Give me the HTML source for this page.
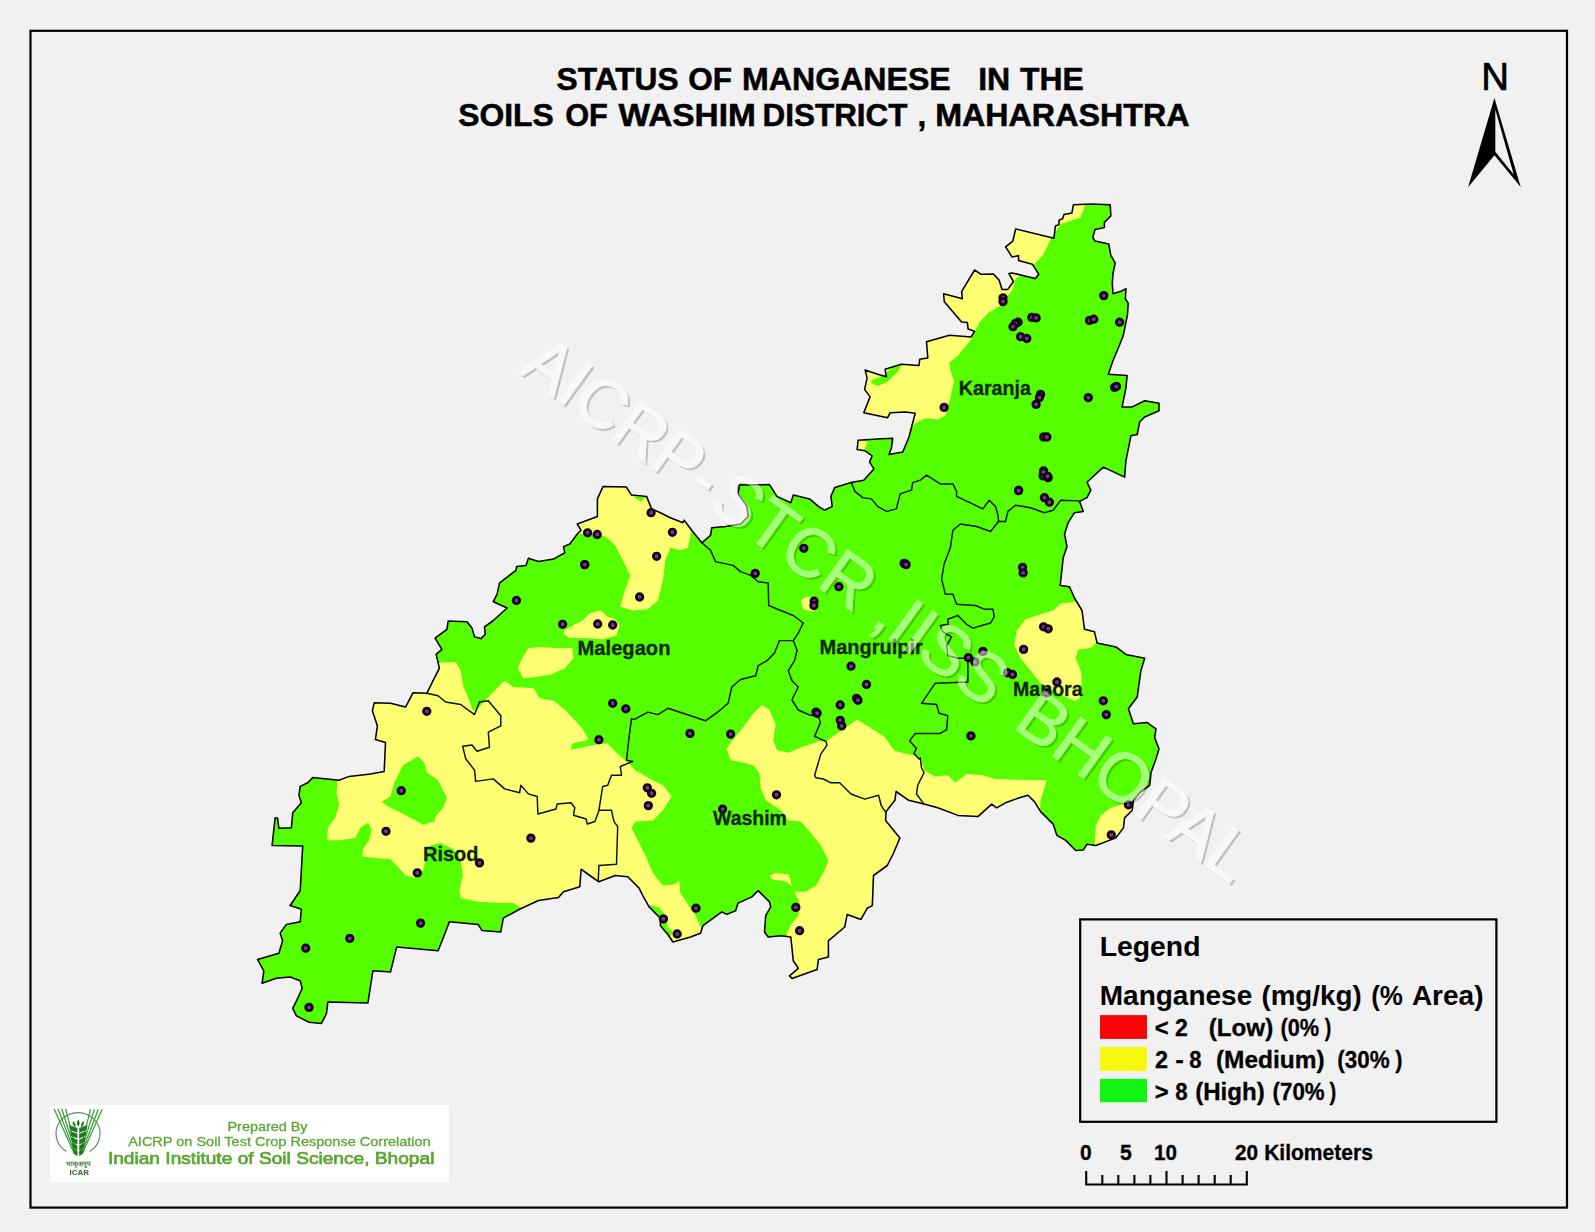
<!DOCTYPE html>
<html lang="en"><head><meta charset="utf-8"><title>Status of Manganese in the Soils of Washim District, Maharashtra</title>
<style>
html,body{margin:0;padding:0;background:#f1f1f1;}
body{width:1595px;height:1232px;overflow:hidden;font-family:"Liberation Sans", Arial, Helvetica, sans-serif;}
svg{display:block;}
text{font-family:"Liberation Sans", Arial, Helvetica, sans-serif;}
.b{font-weight:bold;}
.lbl{font-weight:bold;fill:#0a260a;stroke:#0a260a;stroke-width:0.3px;}
.leg{font-weight:bold;fill:#000;stroke:#000;stroke-width:0.3px;}
.sc{font-weight:bold;fill:#000;stroke:#000;stroke-width:0.3px;}
.ttl{font-weight:bold;fill:#000;stroke:#000;stroke-width:0.5px;}
.pg{fill:#5aa832;}
</style></head><body>
<svg width="1595" height="1232" viewBox="0 0 1595 1232">
<rect x="0" y="0" width="1595" height="1232" fill="#f1f1f1"/>
<rect x="30.5" y="30.8" width="1536.5" height="1176.8" fill="none" stroke="#000" stroke-width="2.2"/>

<defs><clipPath id="dc"><polygon points="863.8,480.2 873.9,468.9 869.6,462.1 872.1,455.8 865.1,450.8 857.1,449.6 858.1,440.3 877.6,439.0 892.7,438.3 891.4,448.3 888.9,454.6 902.7,452.1 909.0,437.0 915.2,413.2 905.7,411.9 890.2,412.7 887.6,417.7 863.8,412.7 870.1,396.9 864.6,389.4 867.1,378.1 865.1,370.1 877.6,374.3 886.4,376.8 885.1,369.3 901.4,364.3 919.0,365.5 919.7,359.3 927.8,358.0 926.5,341.7 949.4,335.2 971.0,337.0 974.6,331.3 968.1,329.1 967.4,322.6 961.6,321.9 944.3,301.7 943.6,293.8 962.4,298.8 961.6,291.6 974.6,270.0 981.1,274.3 993.4,274.0 999.1,280.1 1002.0,289.4 1007.8,289.4 1013.5,281.5 1008.9,273.6 1012.1,272.9 1035.2,278.6 1038.8,274.3 1032.3,264.2 1018.6,260.6 1018.6,255.6 1012.1,257.0 1005.6,246.9 1012.8,241.1 1015.7,228.9 1053.9,238.3 1055.4,226.0 1059.0,224.6 1059.0,220.2 1062.6,218.8 1064.0,214.5 1071.9,213.0 1073.4,204.8 1091.4,203.9 1110.2,204.8 1110.9,215.9 1104.4,222.4 1104.4,227.4 1095.0,229.6 1092.8,237.5 1095.0,241.1 1108.7,244.0 1110.9,255.6 1115.2,262.8 1113.0,273.6 1112.3,283.0 1113.0,293.8 1121.7,290.9 1126.0,288.7 1125.3,298.8 1128.2,303.1 1127.5,314.7 1123.1,336.3 1113.0,360.8 1108.3,374.3 1127.1,375.6 1125.9,388.1 1122.1,406.9 1132.2,406.9 1144.7,400.7 1159.0,403.2 1159.0,410.7 1144.7,417.0 1139.7,422.0 1137.2,434.5 1130.9,435.8 1125.9,460.8 1124.6,477.1 1103.3,467.1 1087.0,482.2 1090.8,490.1 1087.0,497.6 1079.5,501.4 1083.3,511.4 1074.5,512.7 1068.2,522.7 1064.5,534.0 1067.0,546.6 1063.2,557.8 1060.2,585.4 1069.5,586.7 1074.5,598.0 1082.0,610.5 1084.5,629.3 1094.5,631.8 1097.1,643.1 1115.9,646.9 1125.9,654.4 1144.7,658.2 1140.9,670.7 1137.2,697.0 1128.4,708.8 1133.4,723.8 1147.2,722.6 1156.0,728.8 1154.7,737.6 1159.0,748.9 1156.0,758.9 1151.0,772.7 1149.7,785.3 1140.9,791.5 1133.4,800.3 1132.2,810.3 1124.6,817.9 1123.4,827.9 1115.9,837.9 1095.8,845.5 1087.0,844.2 1083.3,850.0 1075.7,850.5 1065.7,840.4 1056.9,835.4 1053.2,824.1 1040.6,811.6 1034.4,801.6 1028.1,795.3 1019.3,797.8 1005.5,802.8 996.7,807.8 991.7,804.1 977.9,816.6 957.9,815.4 937.8,807.8 924.0,804.1 908.7,800.3 896.1,791.5 894.9,800.3 886.1,811.6 885.6,820.4 899.9,837.9 893.6,853.0 887.3,865.5 873.5,875.5 872.3,905.6 867.3,908.2 861.0,919.4 847.2,914.4 844.7,927.0 828.4,940.8 828.4,957.1 818.4,959.6 817.1,969.6 792.0,978.4 789.5,975.9 798.3,968.3 793.3,960.8 790.8,937.0 780.8,935.7 768.2,937.0 764.5,932.0 765.7,915.7 770.7,906.9 769.5,901.9 758.2,890.6 751.9,896.9 738.1,903.1 735.6,910.7 726.8,914.4 721.8,911.9 703.0,925.7 700.5,933.2 690.5,937.0 672.9,942.0 667.9,934.5 660.4,925.7 660.4,918.2 649.1,906.9 642.8,895.6 639.1,888.1 627.8,876.8 615.2,875.5 598.9,881.8 589.8,875.5 581.1,869.2 579.8,886.7 563.5,891.8 558.5,897.5 538.4,900.5 519.6,909.3 503.3,918.1 500.8,931.9 482.0,930.6 478.2,924.4 449.4,921.8 443.1,938.2 438.1,950.7 396.7,946.9 390.5,972.0 372.9,970.8 367.9,1002.9 327.8,1002.1 326.5,1013.4 321.5,1023.4 309.0,1022.2 296.4,1015.9 292.7,1008.4 297.7,998.3 302.2,988.3 300.2,980.8 290.2,977.0 276.4,978.3 262.1,983.3 263.8,970.8 257.6,959.5 278.9,953.2 282.6,940.7 280.1,933.1 286.4,924.4 300.2,921.8 301.4,909.3 290.2,905.5 300.2,890.5 302.7,845.9 272.1,845.4 275.1,817.8 277.6,818.3 278.9,828.3 291.4,827.8 292.7,812.8 301.4,802.7 298.9,795.2 300.2,786.4 307.7,782.7 312.7,777.6 339.1,780.2 349.1,776.4 370.4,773.9 384.2,771.4 385.5,742.5 375.4,739.5 377.4,725.9 372.4,710.8 374.2,702.8 390.5,703.3 405.5,707.1 413.0,692.8 426.8,693.3 433.1,680.7 439.4,668.2 436.1,654.4 441.9,649.4 435.1,638.1 446.9,629.3 448.2,621.0 467.0,621.8 472.0,628.1 474.5,636.8 480.8,638.6 485.3,634.3 484.5,626.8 493.3,620.5 507.1,608.0 493.3,601.7 497.1,594.2 499.6,582.9 515.9,570.4 516.6,566.6 525.9,565.4 528.4,558.3 538.4,561.6 553.5,559.1 564.8,552.8 563.5,546.6 569.8,544.0 577.3,534.0 581.1,530.3 577.3,524.0 597.4,516.5 597.4,498.9 603.1,486.4 626.5,487.1 631.5,495.1 646.6,496.4 651.6,508.9 660.4,512.7 669.2,517.2 682.9,522.7 684.2,520.2 691.7,530.3 701.8,542.8 710.5,535.3 711.8,527.7 725.6,526.5 740.6,524.0 748.2,516.5 746.9,506.4 738.1,493.9 739.4,485.1 769.5,484.6 777.0,496.4 790.8,502.7 793.3,495.1 809.6,498.9 818.4,506.4 824.6,510.2 832.2,506.4 830.9,496.4 834.7,487.6 851.0,482.6"/></clipPath></defs>
<g clip-path="url(#dc)">
<polygon points="863.8,480.2 873.9,468.9 869.6,462.1 872.1,455.8 865.1,450.8 857.1,449.6 858.1,440.3 877.6,439.0 892.7,438.3 891.4,448.3 888.9,454.6 902.7,452.1 909.0,437.0 915.2,413.2 905.7,411.9 890.2,412.7 887.6,417.7 863.8,412.7 870.1,396.9 864.6,389.4 867.1,378.1 865.1,370.1 877.6,374.3 886.4,376.8 885.1,369.3 901.4,364.3 919.0,365.5 919.7,359.3 927.8,358.0 926.5,341.7 949.4,335.2 971.0,337.0 974.6,331.3 968.1,329.1 967.4,322.6 961.6,321.9 944.3,301.7 943.6,293.8 962.4,298.8 961.6,291.6 974.6,270.0 981.1,274.3 993.4,274.0 999.1,280.1 1002.0,289.4 1007.8,289.4 1013.5,281.5 1008.9,273.6 1012.1,272.9 1035.2,278.6 1038.8,274.3 1032.3,264.2 1018.6,260.6 1018.6,255.6 1012.1,257.0 1005.6,246.9 1012.8,241.1 1015.7,228.9 1053.9,238.3 1055.4,226.0 1059.0,224.6 1059.0,220.2 1062.6,218.8 1064.0,214.5 1071.9,213.0 1073.4,204.8 1091.4,203.9 1110.2,204.8 1110.9,215.9 1104.4,222.4 1104.4,227.4 1095.0,229.6 1092.8,237.5 1095.0,241.1 1108.7,244.0 1110.9,255.6 1115.2,262.8 1113.0,273.6 1112.3,283.0 1113.0,293.8 1121.7,290.9 1126.0,288.7 1125.3,298.8 1128.2,303.1 1127.5,314.7 1123.1,336.3 1113.0,360.8 1108.3,374.3 1127.1,375.6 1125.9,388.1 1122.1,406.9 1132.2,406.9 1144.7,400.7 1159.0,403.2 1159.0,410.7 1144.7,417.0 1139.7,422.0 1137.2,434.5 1130.9,435.8 1125.9,460.8 1124.6,477.1 1103.3,467.1 1087.0,482.2 1090.8,490.1 1087.0,497.6 1079.5,501.4 1083.3,511.4 1074.5,512.7 1068.2,522.7 1064.5,534.0 1067.0,546.6 1063.2,557.8 1060.2,585.4 1069.5,586.7 1074.5,598.0 1082.0,610.5 1084.5,629.3 1094.5,631.8 1097.1,643.1 1115.9,646.9 1125.9,654.4 1144.7,658.2 1140.9,670.7 1137.2,697.0 1128.4,708.8 1133.4,723.8 1147.2,722.6 1156.0,728.8 1154.7,737.6 1159.0,748.9 1156.0,758.9 1151.0,772.7 1149.7,785.3 1140.9,791.5 1133.4,800.3 1132.2,810.3 1124.6,817.9 1123.4,827.9 1115.9,837.9 1095.8,845.5 1087.0,844.2 1083.3,850.0 1075.7,850.5 1065.7,840.4 1056.9,835.4 1053.2,824.1 1040.6,811.6 1034.4,801.6 1028.1,795.3 1019.3,797.8 1005.5,802.8 996.7,807.8 991.7,804.1 977.9,816.6 957.9,815.4 937.8,807.8 924.0,804.1 908.7,800.3 896.1,791.5 894.9,800.3 886.1,811.6 885.6,820.4 899.9,837.9 893.6,853.0 887.3,865.5 873.5,875.5 872.3,905.6 867.3,908.2 861.0,919.4 847.2,914.4 844.7,927.0 828.4,940.8 828.4,957.1 818.4,959.6 817.1,969.6 792.0,978.4 789.5,975.9 798.3,968.3 793.3,960.8 790.8,937.0 780.8,935.7 768.2,937.0 764.5,932.0 765.7,915.7 770.7,906.9 769.5,901.9 758.2,890.6 751.9,896.9 738.1,903.1 735.6,910.7 726.8,914.4 721.8,911.9 703.0,925.7 700.5,933.2 690.5,937.0 672.9,942.0 667.9,934.5 660.4,925.7 660.4,918.2 649.1,906.9 642.8,895.6 639.1,888.1 627.8,876.8 615.2,875.5 598.9,881.8 589.8,875.5 581.1,869.2 579.8,886.7 563.5,891.8 558.5,897.5 538.4,900.5 519.6,909.3 503.3,918.1 500.8,931.9 482.0,930.6 478.2,924.4 449.4,921.8 443.1,938.2 438.1,950.7 396.7,946.9 390.5,972.0 372.9,970.8 367.9,1002.9 327.8,1002.1 326.5,1013.4 321.5,1023.4 309.0,1022.2 296.4,1015.9 292.7,1008.4 297.7,998.3 302.2,988.3 300.2,980.8 290.2,977.0 276.4,978.3 262.1,983.3 263.8,970.8 257.6,959.5 278.9,953.2 282.6,940.7 280.1,933.1 286.4,924.4 300.2,921.8 301.4,909.3 290.2,905.5 300.2,890.5 302.7,845.9 272.1,845.4 275.1,817.8 277.6,818.3 278.9,828.3 291.4,827.8 292.7,812.8 301.4,802.7 298.9,795.2 300.2,786.4 307.7,782.7 312.7,777.6 339.1,780.2 349.1,776.4 370.4,773.9 384.2,771.4 385.5,742.5 375.4,739.5 377.4,725.9 372.4,710.8 374.2,702.8 390.5,703.3 405.5,707.1 413.0,692.8 426.8,693.3 433.1,680.7 439.4,668.2 436.1,654.4 441.9,649.4 435.1,638.1 446.9,629.3 448.2,621.0 467.0,621.8 472.0,628.1 474.5,636.8 480.8,638.6 485.3,634.3 484.5,626.8 493.3,620.5 507.1,608.0 493.3,601.7 497.1,594.2 499.6,582.9 515.9,570.4 516.6,566.6 525.9,565.4 528.4,558.3 538.4,561.6 553.5,559.1 564.8,552.8 563.5,546.6 569.8,544.0 577.3,534.0 581.1,530.3 577.3,524.0 597.4,516.5 597.4,498.9 603.1,486.4 626.5,487.1 631.5,495.1 646.6,496.4 651.6,508.9 660.4,512.7 669.2,517.2 682.9,522.7 684.2,520.2 691.7,530.3 701.8,542.8 710.5,535.3 711.8,527.7 725.6,526.5 740.6,524.0 748.2,516.5 746.9,506.4 738.1,493.9 739.4,485.1 769.5,484.6 777.0,496.4 790.8,502.7 793.3,495.1 809.6,498.9 818.4,506.4 824.6,510.2 832.2,506.4 830.9,496.4 834.7,487.6 851.0,482.6" fill="#55ff00"/>
<polygon points="1087.0,200.0 1080.8,217.6 1060.7,223.9 1050.7,238.9 1043.1,255.2 1030.6,267.7 1015.5,279.0 1013.0,289.1 1000.5,305.4 988.0,312.9 979.2,322.9 970.4,340.5 957.9,355.5 949.1,363.0 950.3,370.6 954.1,380.6 950.3,398.2 945.3,415.7 937.8,419.5 925.3,418.2 915.2,423.2 910.2,430.8 840.0,430.8 840.0,190.0 1087.0,190.0" fill="#ffff73"/>
<polygon points="855.0,438.3 867.6,442.0 863.8,450.8 855.0,452.1" fill="#ffff73"/>
<polygon points="1060.7,603.5 1070.7,602.5 1080.8,600.5 1115.9,610.5 1115.9,641.8 1096.3,642.6 1090.8,648.1 1078.2,649.4 1075.7,658.2 1080.8,670.7 1082.0,680.7 1079.5,698.3 1074.5,700.8 1065.7,697.0 1053.2,690.8 1040.6,683.2 1030.6,670.7 1020.6,658.2 1014.3,645.6 1016.8,630.6 1025.6,619.3 1040.6,614.3 1053.2,610.5" fill="#ffff73"/>
<polygon points="1124.6,803.3 1110.8,807.8 1100.8,815.4 1095.8,825.4 1094.5,850.5 1140.9,850.5 1140.9,800.3" fill="#ffff73"/>
<polygon points="575.1,534.0 575.1,475.1 695.5,475.1 695.5,532.8 691.7,530.3 688.0,547.8 680.4,550.3 670.4,547.8 665.4,560.3 662.9,580.4 657.9,600.5 647.8,609.2 632.8,610.5 620.3,606.7 624.0,592.9 630.3,575.4 622.8,560.3 615.2,545.3 605.2,536.5 590.2,534.0" fill="#ffff73"/>
<polygon points="563.8,630.6 572.6,625.5 582.6,620.5 590.2,613.0 600.2,610.5 607.7,616.8 615.2,619.3 619.7,625.5 616.5,635.6 602.7,639.3 585.1,638.1 570.1,638.1 563.8,634.3" fill="#ffff73"/>
<polygon points="528.4,648.1 540.9,646.9 556.0,648.1 572.3,648.1 573.5,658.2 564.8,668.2 551.0,674.5 535.9,677.0 523.4,678.2 517.9,668.2 522.1,658.2" fill="#ffff73"/>
<polygon points="800.8,600.5 805.8,596.7 815.9,598.0 818.4,605.5 813.4,611.8 803.3,609.2" fill="#ffff73"/>
<polygon points="430.6,663.2 455.7,661.9 460.7,670.7 463.2,685.7 468.2,698.3 473.2,710.8 478.2,708.3 487.0,698.3 495.8,689.5 504.6,680.7 513.4,687.0 533.4,688.2 539.7,698.3 553.5,700.8 566.0,710.8 582.3,728.4 588.6,739.7 572.3,743.4 571.0,749.7 594.9,744.7 607.4,743.4 617.4,753.4 626.2,761.0 635.3,770.2 650.3,779.0 662.9,785.3 671.7,796.6 662.9,810.3 652.9,820.4 635.3,821.6 631.5,827.9 637.8,840.4 645.3,855.5 652.9,873.0 662.9,885.6 675.4,884.3 679.2,880.6 680.4,893.1 685.5,900.6 695.5,915.7 700.5,927.0 703.0,950.8 540.9,918.1 519.6,906.8 513.4,903.0 500.8,903.0 478.2,901.8 460.7,898.0 459.4,890.5 462.7,875.5 460.7,860.4 453.2,849.1 440.6,842.9 430.6,845.4 425.6,860.4 423.1,870.4 415.5,878.0 405.5,875.5 398.0,866.7 390.5,859.2 375.4,857.9 362.4,856.6 362.9,849.1 369.2,840.3 371.7,829.1 367.9,822.8 360.4,827.8 355.4,837.8 340.3,840.3 327.3,840.3 327.8,827.8 335.3,817.8 339.1,805.2 336.6,792.7 337.8,775.1 365.4,755.1 365.4,679.8" fill="#ffff73"/>
<polygon points="761.9,705.0 769.5,710.0 775.7,725.1 773.2,740.1 777.0,750.2 788.3,752.7 800.8,747.6 818.4,741.4 825.9,741.4 840.9,730.8 857.2,719.6 871.0,728.3 883.6,735.9 894.9,750.9 916.2,755.9 921.2,758.2 923.9,770.2 935.2,776.5 947.8,775.2 955.3,782.8 966.6,774.0 982.9,775.2 995.4,779.0 1020.5,779.7 1046.8,780.3 1040.6,800.3 1039.1,825.4 916.2,875.5 891.1,1000.9 778.2,1000.9 787.0,933.2 790.8,924.5 798.3,915.7 799.6,903.1 794.5,891.8 805.8,891.8 815.9,885.6 823.4,873.0 828.4,860.5 820.9,845.5 810.8,832.9 800.8,821.6 788.3,820.4 780.8,810.3 765.7,800.3 760.7,787.8 759.4,772.7 753.2,765.2 738.1,761.4 730.6,760.2 726.8,748.9 730.6,742.6 743.1,727.6 753.2,713.8" fill="#ffff73"/>
<polygon points="769.5,875.5 775.7,873.0 788.3,874.3 790.8,880.6 792.0,886.8 787.0,881.8 772.0,879.3" fill="#ffff73"/>
<polygon points="871.3,380.6 880.1,376.8 893.9,366.8 901.4,365.5 897.7,371.8 887.6,381.8 877.6,386.1 871.3,383.1" fill="#55ff00"/>
<polygon points="632.8,496.4 646.6,497.1 640.3,501.4" fill="#55ff00"/>
<polygon points="381.7,801.5 390.5,796.5 394.2,782.7 403.0,765.1 418.1,756.3 424.3,762.6 426.8,772.6 438.1,780.2 446.9,797.7 443.1,807.7 435.6,816.5 434.4,821.5 423.1,824.8 413.0,819.0 400.5,812.8 388.0,806.5" fill="#55ff00"/>
<polygon points="650.3,905.1 659.1,907.6 665.4,915.7 667.9,927.0 672.9,932.0 669.2,938.2 657.9,925.7 657.9,918.2 647.8,906.9" fill="#55ff00"/>
</g>
<polyline points="851.3,482.6 855.0,491.4 862.6,497.6 871.3,498.9 877.6,506.4 886.4,511.4 896.4,508.9 900.2,493.9 911.5,490.1 912.7,482.6 920.3,480.1 926.5,475.1 940.3,483.9 952.9,483.9 956.6,491.4 956.6,496.4 982.9,508.9 989.2,500.2 995.5,506.4 998.0,515.2 998.5,521.5 1005.5,521.5 1008.0,511.4 1015.5,505.2 1030.6,507.7 1044.4,512.7 1053.2,510.2 1060.7,500.2 1079.5,500.9" fill="none" stroke="#061206" stroke-width="1.45" stroke-linejoin="round"/>
<polyline points="998.5,521.5 990.5,531.5 976.7,526.5 960.4,524.0 952.9,530.3 950.3,547.8 944.1,564.1 941.6,579.2 945.3,594.2 952.9,594.2 956.6,604.2 975.4,605.5 984.2,609.2 993.0,609.2 994.2,616.8 990.5,623.0 972.9,628.1 966.6,624.3 957.9,615.5 947.8,619.3 948.3,624.3 940.3,625.5 942.8,631.8 951.6,636.8 946.6,645.6 947.8,655.6 957.9,658.2 967.9,658.2 967.9,682.0 935.3,683.2 921.5,703.3 936.6,704.5 939.1,713.3 947.8,715.8 946.6,729.6 940.3,733.4 915.2,733.4 909.7,740.9 916.5,748.4 914.0,753.4 919.0,759.0 920.3,757.7 921.5,767.7 924.0,772.7 917.7,785.3 916.5,794.0 924.0,804.1" fill="none" stroke="#061206" stroke-width="1.45" stroke-linejoin="round"/>
<polyline points="701.8,542.8 710.5,550.3 715.5,561.6 733.1,565.4 740.6,571.6 750.7,575.4 758.2,581.7 768.2,582.9 768.7,605.5 780.8,610.5 793.3,615.5 803.3,623.0 798.3,633.1 793.3,640.6 779.5,640.6 774.5,653.1 767.0,660.7 758.2,665.7 755.7,675.7 740.6,679.5 731.8,687.0 728.1,703.3 719.3,710.8 705.5,720.8 690.5,715.8 667.9,708.3 657.9,714.6 647.8,712.1 634.0,719.6 631.5,718.8 629.0,737.6 626.5,760.2 632.8,761.4 620.3,766.5 621.5,775.2 611.5,775.2 607.7,785.3 602.7,786.5 598.9,810.3" fill="none" stroke="#061206" stroke-width="1.45" stroke-linejoin="round"/>
<polyline points="793.3,640.6 797.1,650.6 794.5,660.7 788.3,670.7 792.0,680.7 798.3,687.0 793.3,697.0 792.0,700.0 798.3,710.0 809.6,715.0 818.4,716.3 820.4,722.6 814.6,736.4 825.9,741.4 827.1,745.1 820.9,753.9 814.6,775.2 815.9,777.7 823.4,779.0 830.9,782.8 839.7,782.8 851.0,794.0 864.8,799.1 878.6,795.3 881.1,805.3 885.6,812.1" fill="none" stroke="#061206" stroke-width="1.45" stroke-linejoin="round"/>
<polyline points="598.9,810.3 611.5,810.3 614.0,821.6 617.7,826.6 616.5,864.3 598.9,865.5 598.2,881.8" fill="none" stroke="#061206" stroke-width="1.45" stroke-linejoin="round"/>
<polyline points="426.8,693.3 438.1,695.8 445.6,702.0 460.7,704.5 474.5,714.6 479.5,702.0 488.3,700.8 500.8,715.8 500.8,725.9 488.3,732.1 489.5,747.2 477.0,751.3 472.0,745.0 462.7,746.3 465.7,758.8 474.5,770.1 475.7,781.4 493.3,778.9 504.6,788.9 519.6,792.7 520.9,785.2 528.4,793.9 537.2,796.5 537.9,814.0 556.0,809.0 557.2,804.0 571.0,802.7 574.8,807.7 573.5,815.3 586.1,819.0 587.3,824.0 594.9,821.5 598.6,811.5 598.9,810.3" fill="none" stroke="#061206" stroke-width="1.45" stroke-linejoin="round"/>
<polygon points="863.8,480.2 873.9,468.9 869.6,462.1 872.1,455.8 865.1,450.8 857.1,449.6 858.1,440.3 877.6,439.0 892.7,438.3 891.4,448.3 888.9,454.6 902.7,452.1 909.0,437.0 915.2,413.2 905.7,411.9 890.2,412.7 887.6,417.7 863.8,412.7 870.1,396.9 864.6,389.4 867.1,378.1 865.1,370.1 877.6,374.3 886.4,376.8 885.1,369.3 901.4,364.3 919.0,365.5 919.7,359.3 927.8,358.0 926.5,341.7 949.4,335.2 971.0,337.0 974.6,331.3 968.1,329.1 967.4,322.6 961.6,321.9 944.3,301.7 943.6,293.8 962.4,298.8 961.6,291.6 974.6,270.0 981.1,274.3 993.4,274.0 999.1,280.1 1002.0,289.4 1007.8,289.4 1013.5,281.5 1008.9,273.6 1012.1,272.9 1035.2,278.6 1038.8,274.3 1032.3,264.2 1018.6,260.6 1018.6,255.6 1012.1,257.0 1005.6,246.9 1012.8,241.1 1015.7,228.9 1053.9,238.3 1055.4,226.0 1059.0,224.6 1059.0,220.2 1062.6,218.8 1064.0,214.5 1071.9,213.0 1073.4,204.8 1091.4,203.9 1110.2,204.8 1110.9,215.9 1104.4,222.4 1104.4,227.4 1095.0,229.6 1092.8,237.5 1095.0,241.1 1108.7,244.0 1110.9,255.6 1115.2,262.8 1113.0,273.6 1112.3,283.0 1113.0,293.8 1121.7,290.9 1126.0,288.7 1125.3,298.8 1128.2,303.1 1127.5,314.7 1123.1,336.3 1113.0,360.8 1108.3,374.3 1127.1,375.6 1125.9,388.1 1122.1,406.9 1132.2,406.9 1144.7,400.7 1159.0,403.2 1159.0,410.7 1144.7,417.0 1139.7,422.0 1137.2,434.5 1130.9,435.8 1125.9,460.8 1124.6,477.1 1103.3,467.1 1087.0,482.2 1090.8,490.1 1087.0,497.6 1079.5,501.4 1083.3,511.4 1074.5,512.7 1068.2,522.7 1064.5,534.0 1067.0,546.6 1063.2,557.8 1060.2,585.4 1069.5,586.7 1074.5,598.0 1082.0,610.5 1084.5,629.3 1094.5,631.8 1097.1,643.1 1115.9,646.9 1125.9,654.4 1144.7,658.2 1140.9,670.7 1137.2,697.0 1128.4,708.8 1133.4,723.8 1147.2,722.6 1156.0,728.8 1154.7,737.6 1159.0,748.9 1156.0,758.9 1151.0,772.7 1149.7,785.3 1140.9,791.5 1133.4,800.3 1132.2,810.3 1124.6,817.9 1123.4,827.9 1115.9,837.9 1095.8,845.5 1087.0,844.2 1083.3,850.0 1075.7,850.5 1065.7,840.4 1056.9,835.4 1053.2,824.1 1040.6,811.6 1034.4,801.6 1028.1,795.3 1019.3,797.8 1005.5,802.8 996.7,807.8 991.7,804.1 977.9,816.6 957.9,815.4 937.8,807.8 924.0,804.1 908.7,800.3 896.1,791.5 894.9,800.3 886.1,811.6 885.6,820.4 899.9,837.9 893.6,853.0 887.3,865.5 873.5,875.5 872.3,905.6 867.3,908.2 861.0,919.4 847.2,914.4 844.7,927.0 828.4,940.8 828.4,957.1 818.4,959.6 817.1,969.6 792.0,978.4 789.5,975.9 798.3,968.3 793.3,960.8 790.8,937.0 780.8,935.7 768.2,937.0 764.5,932.0 765.7,915.7 770.7,906.9 769.5,901.9 758.2,890.6 751.9,896.9 738.1,903.1 735.6,910.7 726.8,914.4 721.8,911.9 703.0,925.7 700.5,933.2 690.5,937.0 672.9,942.0 667.9,934.5 660.4,925.7 660.4,918.2 649.1,906.9 642.8,895.6 639.1,888.1 627.8,876.8 615.2,875.5 598.9,881.8 589.8,875.5 581.1,869.2 579.8,886.7 563.5,891.8 558.5,897.5 538.4,900.5 519.6,909.3 503.3,918.1 500.8,931.9 482.0,930.6 478.2,924.4 449.4,921.8 443.1,938.2 438.1,950.7 396.7,946.9 390.5,972.0 372.9,970.8 367.9,1002.9 327.8,1002.1 326.5,1013.4 321.5,1023.4 309.0,1022.2 296.4,1015.9 292.7,1008.4 297.7,998.3 302.2,988.3 300.2,980.8 290.2,977.0 276.4,978.3 262.1,983.3 263.8,970.8 257.6,959.5 278.9,953.2 282.6,940.7 280.1,933.1 286.4,924.4 300.2,921.8 301.4,909.3 290.2,905.5 300.2,890.5 302.7,845.9 272.1,845.4 275.1,817.8 277.6,818.3 278.9,828.3 291.4,827.8 292.7,812.8 301.4,802.7 298.9,795.2 300.2,786.4 307.7,782.7 312.7,777.6 339.1,780.2 349.1,776.4 370.4,773.9 384.2,771.4 385.5,742.5 375.4,739.5 377.4,725.9 372.4,710.8 374.2,702.8 390.5,703.3 405.5,707.1 413.0,692.8 426.8,693.3 433.1,680.7 439.4,668.2 436.1,654.4 441.9,649.4 435.1,638.1 446.9,629.3 448.2,621.0 467.0,621.8 472.0,628.1 474.5,636.8 480.8,638.6 485.3,634.3 484.5,626.8 493.3,620.5 507.1,608.0 493.3,601.7 497.1,594.2 499.6,582.9 515.9,570.4 516.6,566.6 525.9,565.4 528.4,558.3 538.4,561.6 553.5,559.1 564.8,552.8 563.5,546.6 569.8,544.0 577.3,534.0 581.1,530.3 577.3,524.0 597.4,516.5 597.4,498.9 603.1,486.4 626.5,487.1 631.5,495.1 646.6,496.4 651.6,508.9 660.4,512.7 669.2,517.2 682.9,522.7 684.2,520.2 691.7,530.3 701.8,542.8 710.5,535.3 711.8,527.7 725.6,526.5 740.6,524.0 748.2,516.5 746.9,506.4 738.1,493.9 739.4,485.1 769.5,484.6 777.0,496.4 790.8,502.7 793.3,495.1 809.6,498.9 818.4,506.4 824.6,510.2 832.2,506.4 830.9,496.4 834.7,487.6 851.0,482.6" fill="none" stroke="#000" stroke-width="1.55" stroke-linejoin="round"/>
<g fill="#8a2c9a" stroke="#0b0610" stroke-width="2.7">
<circle cx="1003.0" cy="297.8" r="3.3"/>
<circle cx="1003.0" cy="301.6" r="3.3"/>
<circle cx="1031.8" cy="317.4" r="3.3"/>
<circle cx="1036.1" cy="317.9" r="3.3"/>
<circle cx="1018.1" cy="322.2" r="3.3"/>
<circle cx="1015.5" cy="323.4" r="3.3"/>
<circle cx="1013.0" cy="326.7" r="3.3"/>
<circle cx="1020.6" cy="336.7" r="3.3"/>
<circle cx="1026.8" cy="338.5" r="3.3"/>
<circle cx="1103.8" cy="295.6" r="3.3"/>
<circle cx="1089.5" cy="320.4" r="3.3"/>
<circle cx="1093.8" cy="319.2" r="3.3"/>
<circle cx="1119.6" cy="322.2" r="3.3"/>
<circle cx="944.1" cy="407.4" r="3.3"/>
<circle cx="1040.6" cy="394.4" r="3.3"/>
<circle cx="1039.4" cy="397.6" r="3.3"/>
<circle cx="1036.1" cy="404.4" r="3.3"/>
<circle cx="1088.3" cy="397.6" r="3.3"/>
<circle cx="1114.6" cy="387.4" r="3.3"/>
<circle cx="1116.4" cy="386.4" r="3.3"/>
<circle cx="1043.6" cy="437.0" r="3.3"/>
<circle cx="1046.9" cy="437.0" r="3.3"/>
<circle cx="1043.6" cy="470.9" r="3.3"/>
<circle cx="1043.1" cy="475.9" r="3.3"/>
<circle cx="1048.2" cy="477.6" r="3.3"/>
<circle cx="1018.6" cy="490.2" r="3.3"/>
<circle cx="1043.6" cy="472.1" r="3.3"/>
<circle cx="1047.6" cy="476.3" r="3.3"/>
<circle cx="1018.6" cy="490.6" r="3.3"/>
<circle cx="1044.4" cy="497.6" r="3.3"/>
<circle cx="1049.4" cy="502.2" r="3.3"/>
<circle cx="904.7" cy="563.6" r="3.3"/>
<circle cx="1022.6" cy="567.4" r="3.3"/>
<circle cx="1023.1" cy="572.9" r="3.3"/>
<circle cx="1043.6" cy="626.8" r="3.3"/>
<circle cx="1048.2" cy="628.8" r="3.3"/>
<circle cx="1023.6" cy="649.4" r="3.3"/>
<circle cx="982.9" cy="651.4" r="3.3"/>
<circle cx="968.4" cy="657.6" r="3.3"/>
<circle cx="974.9" cy="661.9" r="3.3"/>
<circle cx="1007.5" cy="672.7" r="3.3"/>
<circle cx="1012.5" cy="674.5" r="3.3"/>
<circle cx="1056.9" cy="682.0" r="3.3"/>
<circle cx="1046.9" cy="692.8" r="3.3"/>
<circle cx="1103.3" cy="700.8" r="3.3"/>
<circle cx="1106.3" cy="714.6" r="3.3"/>
<circle cx="970.9" cy="735.9" r="3.3"/>
<circle cx="1128.4" cy="804.8" r="3.3"/>
<circle cx="1111.3" cy="834.9" r="3.3"/>
<circle cx="651.1" cy="512.7" r="3.3"/>
<circle cx="587.6" cy="532.8" r="3.3"/>
<circle cx="597.2" cy="534.5" r="3.3"/>
<circle cx="672.4" cy="532.3" r="3.3"/>
<circle cx="584.6" cy="564.6" r="3.3"/>
<circle cx="656.6" cy="556.3" r="3.3"/>
<circle cx="639.6" cy="597.0" r="3.3"/>
<circle cx="562.6" cy="624.3" r="3.3"/>
<circle cx="597.7" cy="624.0" r="3.3"/>
<circle cx="612.7" cy="625.0" r="3.3"/>
<circle cx="755.2" cy="573.4" r="3.3"/>
<circle cx="803.8" cy="548.3" r="3.3"/>
<circle cx="838.9" cy="586.7" r="3.3"/>
<circle cx="814.1" cy="601.2" r="3.3"/>
<circle cx="813.9" cy="605.5" r="3.3"/>
<circle cx="904.1" cy="563.4" r="3.3"/>
<circle cx="906.1" cy="564.6" r="3.3"/>
<circle cx="851.0" cy="666.2" r="3.3"/>
<circle cx="866.5" cy="684.5" r="3.3"/>
<circle cx="856.5" cy="698.3" r="3.3"/>
<circle cx="858.0" cy="700.3" r="3.3"/>
<circle cx="840.2" cy="705.0" r="3.3"/>
<circle cx="815.9" cy="712.1" r="3.3"/>
<circle cx="817.1" cy="713.3" r="3.3"/>
<circle cx="840.2" cy="720.3" r="3.3"/>
<circle cx="841.7" cy="725.9" r="3.3"/>
<circle cx="612.7" cy="703.3" r="3.3"/>
<circle cx="625.8" cy="708.8" r="3.3"/>
<circle cx="690.0" cy="733.4" r="3.3"/>
<circle cx="730.6" cy="734.1" r="3.3"/>
<circle cx="598.9" cy="739.7" r="3.3"/>
<circle cx="647.3" cy="787.8" r="3.3"/>
<circle cx="651.6" cy="793.3" r="3.3"/>
<circle cx="648.3" cy="805.6" r="3.3"/>
<circle cx="722.6" cy="809.1" r="3.3"/>
<circle cx="776.5" cy="794.8" r="3.3"/>
<circle cx="696.0" cy="908.2" r="3.3"/>
<circle cx="663.4" cy="918.9" r="3.3"/>
<circle cx="677.2" cy="934.0" r="3.3"/>
<circle cx="795.8" cy="907.4" r="3.3"/>
<circle cx="799.6" cy="930.7" r="3.3"/>
<circle cx="584.8" cy="564.6" r="3.3"/>
<circle cx="516.4" cy="600.5" r="3.3"/>
<circle cx="426.8" cy="711.3" r="3.3"/>
<circle cx="401.3" cy="790.7" r="3.3"/>
<circle cx="386.0" cy="831.3" r="3.3"/>
<circle cx="417.3" cy="872.9" r="3.3"/>
<circle cx="479.5" cy="862.9" r="3.3"/>
<circle cx="530.9" cy="838.1" r="3.3"/>
<circle cx="420.6" cy="923.1" r="3.3"/>
<circle cx="349.8" cy="938.4" r="3.3"/>
<circle cx="305.7" cy="948.2" r="3.3"/>
<circle cx="309.0" cy="1007.4" r="3.3"/>
</g>
<text x="958.72" y="394.8" class="lbl" font-size="20.9" textLength="72.35" lengthAdjust="spacingAndGlyphs">Karanja</text>
<text x="577.59" y="655.4" class="lbl" font-size="20.9" textLength="92.86" lengthAdjust="spacingAndGlyphs">Malegaon</text>
<text x="819.6" y="653.9" class="lbl" font-size="20.9" textLength="103.13" lengthAdjust="spacingAndGlyphs">Mangrulpir</text>
<text x="1013.03" y="696.1" class="lbl" font-size="20.9" textLength="69.6" lengthAdjust="spacingAndGlyphs">Manora</text>
<text x="713.0" y="825.2" class="lbl" font-size="20.9" textLength="73.91" lengthAdjust="spacingAndGlyphs">Washim</text>
<text x="423.0" y="860.7" class="lbl" font-size="20.9" textLength="55.35" lengthAdjust="spacingAndGlyphs">Risod</text>
<defs><filter id="emb" x="0" y="0" width="1595" height="1232" filterUnits="userSpaceOnUse" primitiveUnits="userSpaceOnUse"><feOffset in="SourceAlpha" dx="1.5" dy="1.5" result="off"/><feComposite in="off" in2="SourceAlpha" operator="out" result="sh"/><feFlood flood-color="#000000" flood-opacity="0.2" result="f1"/><feComposite in="f1" in2="sh" operator="in" result="shc"/><feFlood flood-color="#ffffff" flood-opacity="0.48" result="f2"/><feComposite in="f2" in2="SourceAlpha" operator="in" result="body"/><feMerge><feMergeNode in="shc"/><feMergeNode in="body"/></feMerge></filter></defs>
<g filter="url(#emb)"><g transform="translate(517.6 371.5) rotate(35.7)" font-size="69.5" fill="#ffffff" stroke="#ffffff" stroke-width="1.0">
<text x="0" y="0" textLength="226.2" lengthAdjust="spacingAndGlyphs">AICRP-</text>
<text x="233" y="0" textLength="344.9" lengthAdjust="spacingAndGlyphs">STCR ,IISS</text>
<text x="608.2" y="0" textLength="270.8" lengthAdjust="spacingAndGlyphs">BHOPAL</text>
</g></g>
<text x="556.51" y="89.5" class="ttl" font-size="31.4" textLength="122.06" lengthAdjust="spacingAndGlyphs">STATUS</text>
<text x="688.34" y="89.5" class="ttl" font-size="31.4" textLength="43.72" lengthAdjust="spacingAndGlyphs">OF</text>
<text x="742.11" y="89.5" class="ttl" font-size="31.4" textLength="208.63" lengthAdjust="spacingAndGlyphs">MANGANESE</text>
<text x="978.22" y="89.5" class="ttl" font-size="31.4" textLength="32.07" lengthAdjust="spacingAndGlyphs">IN</text>
<text x="1019.98" y="89.5" class="ttl" font-size="31.4" textLength="63.84" lengthAdjust="spacingAndGlyphs">THE</text>
<text x="458.2" y="126.2" class="ttl" font-size="31.4" textLength="95.53" lengthAdjust="spacingAndGlyphs">SOILS</text>
<text x="565.17" y="126.2" class="ttl" font-size="31.4" textLength="42.66" lengthAdjust="spacingAndGlyphs">OF</text>
<text x="618.5" y="126.2" class="ttl" font-size="31.4" textLength="137.34" lengthAdjust="spacingAndGlyphs">WASHIM</text>
<text x="762.56" y="126.2" class="ttl" font-size="31.4" textLength="144.93" lengthAdjust="spacingAndGlyphs">DISTRICT</text>
<text x="935.2" y="126.2" class="ttl" font-size="31.4" textLength="254.25" lengthAdjust="spacingAndGlyphs">MAHARASHTRA</text>
<text x="917.6" y="126.2" class="ttl" font-size="31.4">,</text>
<text x="1481.23" y="90.4" font-size="38.4" textLength="27.74" lengthAdjust="spacingAndGlyphs" fill="#000" stroke="#000" stroke-width="0.7">N</text>
<polygon points="1494.4,98.1 1468.1,187.2 1494.4,155.3 1520.7,187.0" fill="#000"/>
<polygon points="1495.3,109.5 1513.7,174.4 1495.3,151.8" fill="#f1f1f1"/>
<rect x="1080.2" y="919.4" width="416.2" height="202.4" fill="none" stroke="#000" stroke-width="2.2"/>
<text x="1099.76" y="955.9" class="b" font-size="28" textLength="100.7" lengthAdjust="spacingAndGlyphs">Legend</text>
<text x="1099.78" y="1004.5" class="b" font-size="27.4" textLength="152.5" lengthAdjust="spacingAndGlyphs">Manganese</text>
<text x="1261.45" y="1004.5" class="b" font-size="27.4" textLength="100.22" lengthAdjust="spacingAndGlyphs">(mg/kg)</text>
<text x="1371.13" y="1004.5" class="b" font-size="27.4" textLength="31.75" lengthAdjust="spacingAndGlyphs">(%</text>
<text x="1411.9" y="1004.5" class="b" font-size="27.4" textLength="71.61" lengthAdjust="spacingAndGlyphs">Area)</text>
<rect x="1100" y="1015.1" width="47" height="23.8" fill="#f80606"/>
<rect x="1100" y="1047.0" width="47" height="23.9" fill="#f8f80f"/>
<rect x="1100" y="1078.9" width="47" height="23.3" fill="#12f512"/>
<text x="1154.75" y="1035.9" class="leg" font-size="23.2" textLength="13.88" lengthAdjust="spacingAndGlyphs">&lt;</text>
<text x="1175.11" y="1035.9" class="leg" font-size="23.2" textLength="12.83" lengthAdjust="spacingAndGlyphs">2</text>
<text x="1208.81" y="1035.9" class="leg" font-size="23.2" textLength="64.39" lengthAdjust="spacingAndGlyphs">(Low)</text>
<text x="1280.42" y="1035.9" class="leg" font-size="23.2" textLength="38.69" lengthAdjust="spacingAndGlyphs">(0%</text>
<text x="1324.8" y="1035.9" class="leg" font-size="23.2" textLength="6.54" lengthAdjust="spacingAndGlyphs">)</text>
<text x="1155.0" y="1068.0" class="leg" font-size="23.2" textLength="13.05" lengthAdjust="spacingAndGlyphs">2</text>
<text x="1175.2" y="1068.0" class="leg" font-size="23.2" textLength="8.58" lengthAdjust="spacingAndGlyphs">-</text>
<text x="1189.14" y="1068.0" class="leg" font-size="23.2" textLength="12.24" lengthAdjust="spacingAndGlyphs">8</text>
<text x="1215.9" y="1068.0" class="leg" font-size="23.2" textLength="108.7" lengthAdjust="spacingAndGlyphs">(Medium)</text>
<text x="1337.29" y="1068.0" class="leg" font-size="23.2" textLength="52.26" lengthAdjust="spacingAndGlyphs">(30%</text>
<text x="1395.2" y="1068.0" class="leg" font-size="23.2" textLength="7.25" lengthAdjust="spacingAndGlyphs">)</text>
<text x="1154.75" y="1100.1" class="leg" font-size="23.2" textLength="13.88" lengthAdjust="spacingAndGlyphs">&gt;</text>
<text x="1175.33" y="1100.1" class="leg" font-size="23.2" textLength="12.35" lengthAdjust="spacingAndGlyphs">8</text>
<text x="1195.22" y="1100.1" class="leg" font-size="23.2" textLength="69.53" lengthAdjust="spacingAndGlyphs">(High)</text>
<text x="1272.6" y="1100.1" class="leg" font-size="23.2" textLength="51.95" lengthAdjust="spacingAndGlyphs">(70%</text>
<text x="1329.5" y="1100.1" class="leg" font-size="23.2" textLength="6.78" lengthAdjust="spacingAndGlyphs">)</text>
<path d="M1086.2,1170.9 V1184.5 H1246.8 V1170.9 M1102.3,1184.5 v-9.6 M1118.3,1184.5 v-9.6 M1134.4,1184.5 v-9.6 M1150.4,1184.5 v-9.6 M1166.5,1184.5 v-13.6 M1182.6,1184.5 v-9.6 M1198.6,1184.5 v-9.6 M1214.7,1184.5 v-9.6 M1230.7,1184.5 v-9.6" fill="none" stroke="#000" stroke-width="2.1"/>
<text x="1080.06" y="1159.9" class="sc" font-size="21.6" textLength="11.7" lengthAdjust="spacingAndGlyphs">0</text>
<text x="1119.96" y="1159.9" class="sc" font-size="21.6" textLength="11.79" lengthAdjust="spacingAndGlyphs">5</text>
<text x="1153.96" y="1159.9" class="sc" font-size="21.6" textLength="22.9" lengthAdjust="spacingAndGlyphs">10</text>
<text x="1234.88" y="1159.9" class="sc" font-size="21.6" textLength="23.1" lengthAdjust="spacingAndGlyphs">20</text>
<text x="1264.13" y="1159.9" class="sc" font-size="21.6" textLength="108.78" lengthAdjust="spacingAndGlyphs">Kilometers</text>
<defs><filter id="bl" x="-5%" y="-5%" width="110%" height="110%"><feGaussianBlur stdDeviation="0.45"/></filter></defs>
<rect x="50" y="1105" width="399" height="77" fill="#ffffff"/>
<g filter="url(#bl)">
<text x="227.5" y="1130.5" class="pg" font-size="13.4" textLength="80" lengthAdjust="spacingAndGlyphs" stroke="#5aa832" stroke-width="0.3">Prepared By</text>
<text x="128.2" y="1145.8" class="pg" font-size="13.4" textLength="302.5" lengthAdjust="spacingAndGlyphs" stroke="#5aa832" stroke-width="0.3">AICRP on Soil Test Crop Response Correlation</text>
<text x="107.9" y="1164" class="pg" font-size="16.9" textLength="326.5" lengthAdjust="spacingAndGlyphs" stroke="#5aa832" stroke-width="0.7">Indian Institute of Soil Science, Bhopal</text>
<g id="icar" fill="none" stroke="#2f982f" stroke-width="1.15">
<path d="M66.5,1151.5 A22,21 0 1 1 89.5,1151.5" stroke="#5d8f5d"/>
<line x1="54.0" y1="1108.8" x2="74.3" y2="1153.5"/>
<line x1="102.2" y1="1109.2" x2="82.3" y2="1153.5"/>
<line x1="57.9" y1="1108.8" x2="75.2" y2="1153.5"/>
<line x1="98.3" y1="1109.2" x2="81.4" y2="1153.5"/>
<line x1="61.8" y1="1108.8" x2="76.1" y2="1153.5"/>
<line x1="94.4" y1="1109.2" x2="80.5" y2="1153.5"/>
<line x1="65.7" y1="1108.8" x2="77.0" y2="1153.5"/>
<line x1="90.5" y1="1109.2" x2="79.6" y2="1153.5"/>
</g>
<g fill="#1f7d1f">
<path d="M78.3,1119.5 c-1.8,2.5 -1.8,5 0,7 c1.8,-2 1.8,-4.500 0,-7z M73,1121 c-0.8,2.5 0,4.800 2.5,6 c0.5,-2.5 -0.5,-4.500 -2.500,-6z M83.6,1121 c0.8,2.500 0,4.800 -2.500,6 c-0.500,-2.500 0.5,-4.500 2.500,-6z"/>
<path d="M77.4,1127.9 L69.2,1125.1 L70.0,1129.9 L77.4,1132.7z"/>
<path d="M79.2,1127.9 L87.4,1125.1 L86.6,1129.9 L79.2,1132.7z"/>
<path d="M77.4,1133.8 L70.1,1131.0 L70.9,1135.8 L77.4,1138.6z"/>
<path d="M79.2,1133.8 L86.5,1131.0 L85.7,1135.8 L79.2,1138.6z"/>
<path d="M77.4,1139.7 L71.0,1136.9 L71.8,1141.7 L77.4,1144.5z"/>
<path d="M79.2,1139.7 L85.6,1136.9 L84.8,1141.7 L79.2,1144.5z"/>
<path d="M77.4,1145.6 L71.9,1142.8 L72.7,1147.6 L77.4,1150.4z"/>
<path d="M79.2,1145.6 L84.7,1142.8 L83.9,1147.6 L79.2,1150.4z"/>
<path d="M77.4,1151.5 L72.8,1148.7 L73.6,1153.5 L77.4,1156.3z"/>
<path d="M79.2,1151.5 L83.8,1148.7 L83.0,1153.5 L79.2,1156.3z"/>
</g>
<text x="78.3" y="1166" font-size="6.6" fill="#3a7d3a" text-anchor="middle" font-weight="bold">भाकृअनुप</text>
<text x="79.2" y="1174.8" font-size="6.7" fill="#2f5f2f" text-anchor="middle" font-weight="bold" textLength="19.5" lengthAdjust="spacingAndGlyphs">ICAR</text>
</g>
</svg></body></html>
